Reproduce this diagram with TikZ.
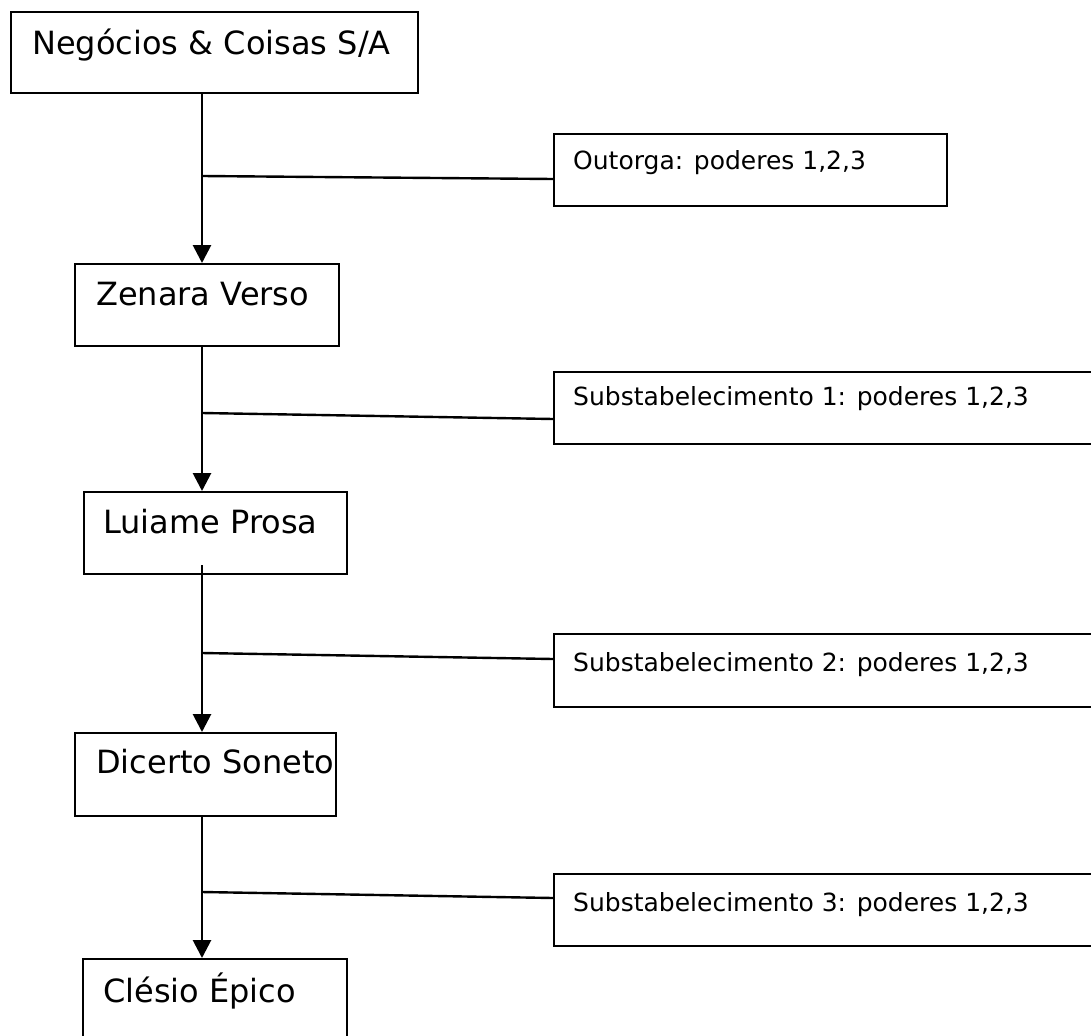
\documentclass[tikz,border=0pt]{standalone}
\usepackage{fontspec}
\setmainfont{DejaVu Sans}
\usetikzlibrary{arrows.meta}
\tikzset{
  box/.style={draw, line width=2.4pt, inner sep=0pt, anchor=north west},
  bigtxt/.style={anchor=base west, inner sep=0pt, font=\fontsize{32}{38}\selectfont},
  smalltxt/.style={anchor=base west, inner sep=0pt, font=\fontsize{25}{30}\selectfont},
  link/.style={line width=2.4pt},
  arr/.style={line width=2.8pt, -{Triangle[width=18pt,length=18pt]}},
}
\begin{document}
\begin{tikzpicture}[x=1pt,y=-1pt]
\useasboundingbox (0,0) rectangle (1091,1035);
\clip (0,0) rectangle (1091,1035);
\coordinate (v) at (202,0);
% main chain boxes
\node[box, minimum width=407pt, minimum height=81pt] (b1) at (10,11) {};
\node[box, minimum width=264pt, minimum height=82pt] (b2) at (74,263) {};
\node[box, minimum width=263pt, minimum height=82pt] (b3) at (83,491) {};
\node[box, minimum width=261pt, minimum height=83pt] (b4) at (74,732) {};
\node[box, minimum width=264pt, minimum height=90pt] (b5) at (82,958) {};
% side boxes
\node[box, minimum width=393pt, minimum height=72pt] (s1) at (553,133) {};
\node[box, minimum width=560pt, minimum height=72pt] (s2) at (553,371) {};
\node[box, minimum width=560pt, minimum height=73pt] (s3) at (553,633) {};
\node[box, minimum width=560pt, minimum height=72pt] (s4) at (553,873) {};
% texts
\node[bigtxt] (t1) at ([xshift=22pt,yshift=-44pt]b1.north west) {Negócios \& Coisas S/A};
\node[bigtxt] (t2) at ([xshift=22pt,yshift=-42pt]b2.north west) {Zenara Verso};
\node[bigtxt] (t3) at ([xshift=20pt,yshift=-42pt]b3.north west) {Luiame Prosa};
\node[bigtxt] (t4) at ([xshift=22pt,yshift=-41pt]b4.north west) {Dicerto Soneto};
\node[bigtxt] (t5) at ([xshift=21pt,yshift=-44pt]b5.north west) {Clésio Épico};
\node[smalltxt] (u1) at ([xshift=20pt,yshift=-36pt]s1.north west) {Outorga: poderes 1,2,3};
\node[smalltxt] (u2) at ([xshift=20pt,yshift=-34pt]s2.north west) {Substabelecimento 1: poderes 1,2,3};
\node[smalltxt] (u3) at ([xshift=20pt,yshift=-38pt]s3.north west) {Substabelecimento 2: poderes 1,2,3};
\node[smalltxt] (u4) at ([xshift=20pt,yshift=-38pt]s4.north west) {Substabelecimento 3: poderes 1,2,3};
% vertical arrows
\draw[arr] (b1.south -| v) -- (b2.north -| v);
\draw[arr] (b2.south -| v) -- (b3.north -| v);
\draw[arr] ([yshift=10pt]b3.south -| v) -- (b4.north -| v);
\draw[arr] (b4.south -| v) -- (b5.north -| v);
% junctions
\coordinate (j1) at (202,176);
\coordinate (j2) at (202,413);
\coordinate (j3) at (202,653);
\coordinate (j4) at (202,892);
\draw[link] (j1) -- ([yshift=-46pt]s1.north west);
\draw[link] (j2) -- ([yshift=-48pt]s2.north west);
\draw[link] (j3) -- ([yshift=-26pt]s3.north west);
\draw[link] (j4) -- ([yshift=-25pt]s4.north west);
\end{tikzpicture}
\end{document}
